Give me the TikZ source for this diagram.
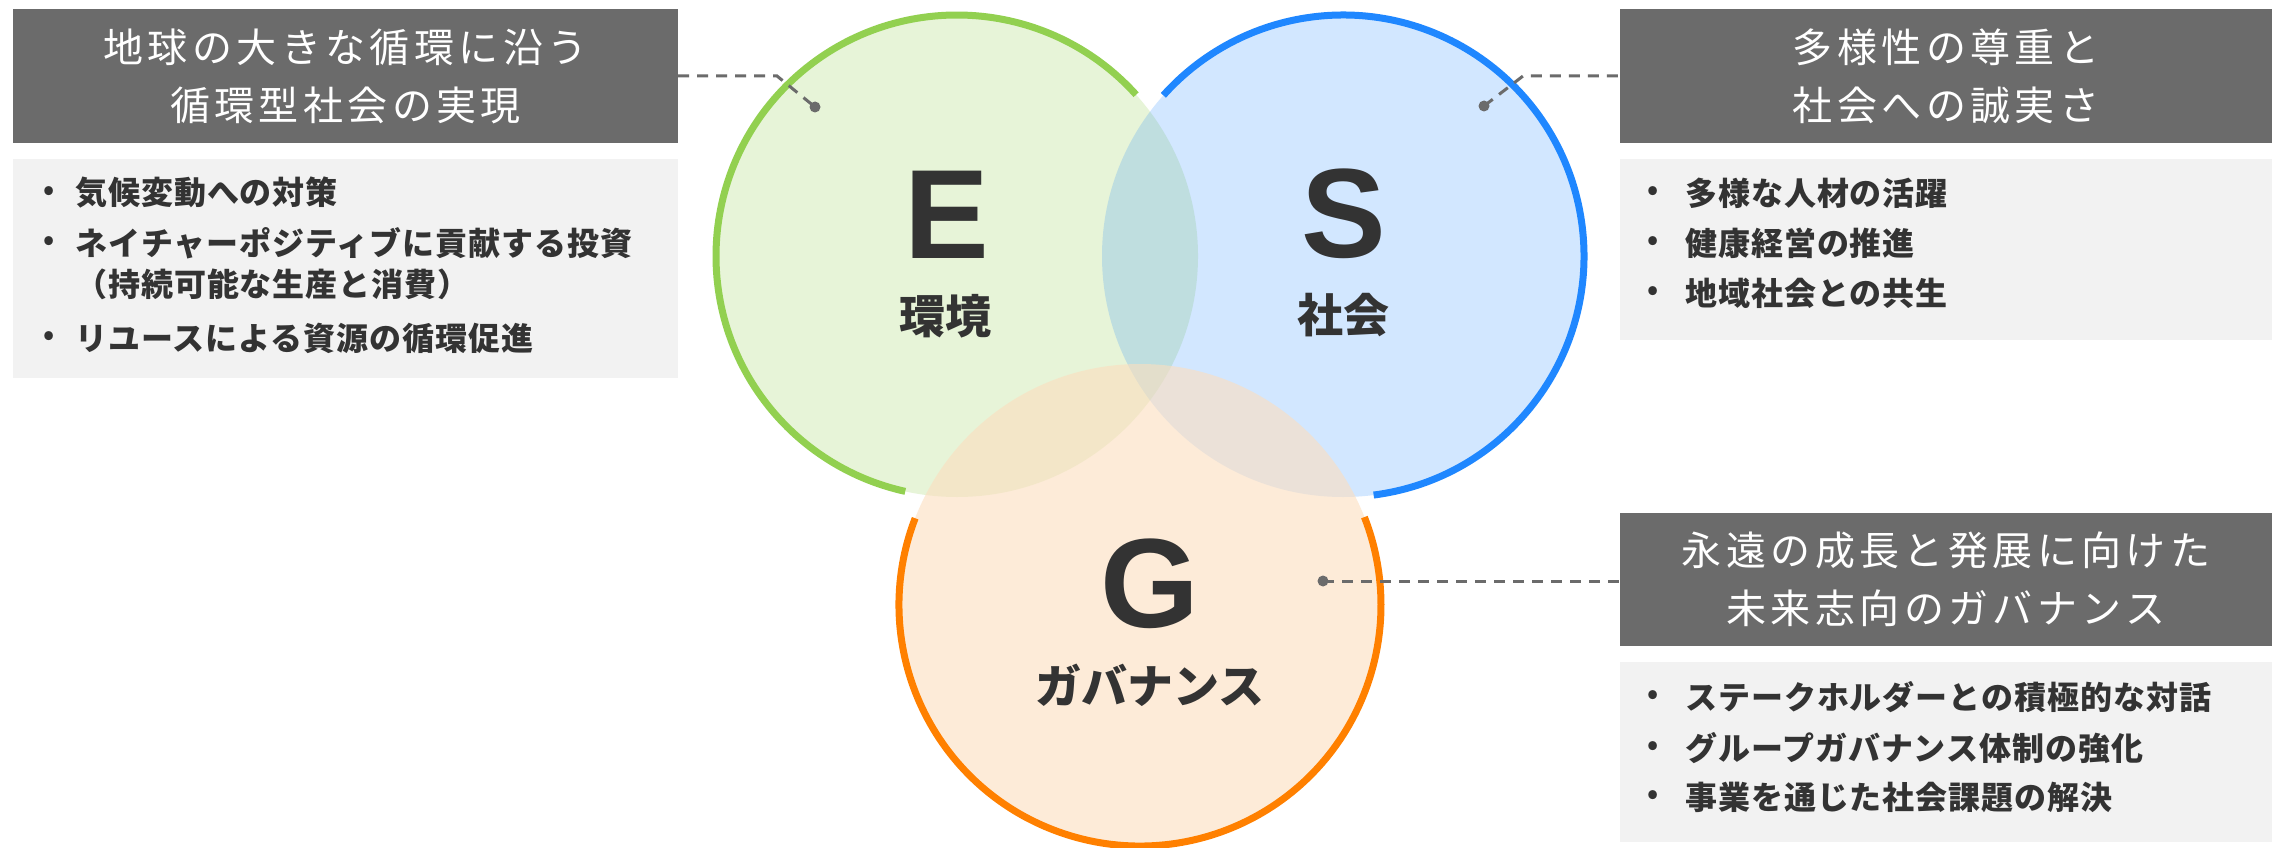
\documentclass[tikz,border=0pt]{standalone}
\usepackage{fontspec}
\newfontfamily\jpt{Noto Sans CJK JP}[LetterSpace=11]
\newfontfamily\jpl{Noto Sans CJK JP}[LetterSpace=3]
\newfontfamily\jpc{Noto Sans CJK JP}
\newfontfamily\latb{Liberation Sans}
\definecolor{tgray}{HTML}{6B6B6B}
\definecolor{lgray}{HTML}{F2F2F2}
\definecolor{tdark}{HTML}{333333}
\definecolor{cgreen}{HTML}{92D050}
\definecolor{cblue}{HTML}{1F87FF}
\definecolor{corange}{HTML}{FF8000}
\definecolor{gfill}{RGB}{252,222,190}
\begin{document}
\begin{tikzpicture}[x=1pt,y=1pt,
  titlebox/.style={fill=tgray, text=white, inner sep=0, align=center,
    font=\jpt\fontsize{40}{58}\selectfont},
  listbox/.style={fill=lgray, inner sep=0},
  item/.style={anchor=west, inner sep=0, text=tdark,
    font=\jpl\bfseries\fontsize{32}{39}\selectfont},
  bul/.style={inner sep=0, text=tdark, font=\jpc\bfseries\fontsize{28}{28}\selectfont},
  conn/.style={draw=tgray, line width=3, dash pattern=on 11pt off 8pt},
  dotmark/.style={circle, fill=tgray, inner sep=0, minimum size=11},
  venn/.style={circle, inner sep=0, minimum size=482},
  ring/.style={line width=7},
  bigletter/.style={inner sep=0, text=tdark, font=\latb\bfseries\fontsize{127}{127}\selectfont},
  cjklabel/.style={inner sep=0, text=tdark, font=\jpc\bfseries\fontsize{46}{46}\selectfont}
]
\useasboundingbox (0,0) rectangle (2272,-848);
\fill[white] (0,0) rectangle (2272,-848);

% boxes
\node[titlebox, minimum width=665, minimum height=134] (tE) at (345.5,-76) {地球の大きな循環に沿う\\循環型社会の実現};
\node[listbox, minimum width=665, minimum height=219] (lE) at (345.5,-268.5) {};
\node[titlebox, minimum width=652, minimum height=134] (tS) at (1946,-76) {多様性の尊重と\\社会への誠実さ};
\node[listbox, minimum width=652, minimum height=181] (lS) at (1946,-249.5) {};
\node[titlebox, minimum width=652, minimum height=133] (tG) at (1946,-579.5) {永遠の成長と発展に向けた\\未来志向のガバナンス};
\node[listbox, minimum width=652, minimum height=180] (lG) at (1946,-752) {};

% list items E
\node[bul] (bE1) at (48.6,-193) {•};
\node[item] (iE1) at (75,-193) {気候変動への対策};
\node[bul] (bE2) at (48.6,-243) {•};
\node[item] (iE2) at (75,-243) {ネイチャーポジティブに貢献する投資};
\node[item] (iE2b) at (75,-284) {（持続可能な生産と消費）};
\node[bul] (bE3) at (48.6,-338) {•};
\node[item] (iE3) at (75,-338) {リユースによる資源の循環促進};

% list items S
\node[bul] (bS1) at (1653,-193) {•};
\node[item] (iS1) at (1685,-193) {多様な人材の活躍};
\node[bul] (bS2) at (1653,-243) {•};
\node[item] (iS2) at (1685,-243) {健康経営の推進};
\node[bul] (bS3) at (1653,-293) {•};
\node[item] (iS3) at (1685,-293) {地域社会との共生};

% list items G
\node[bul] (bG1) at (1653,-697) {•};
\node[item] (iG1) at (1685,-697) {ステークホルダーとの積極的な対話};
\node[bul] (bG2) at (1653,-748) {•};
\node[item] (iG2) at (1685,-748) {グループガバナンス体制の強化};
\node[bul] (bG3) at (1653,-797) {•};
\node[item] (iG3) at (1685,-797) {事業を通じた社会課題の解決};

% circles
\node[venn, fill=cgreen, fill opacity=0.22] (cE) at (957,-256) {};
\node[venn, fill=cblue, fill opacity=0.2] (cS) at (1343,-256) {};
\node[venn, fill=gfill, fill opacity=0.6] (cG) at (1140,-605) {};

\draw[ring, cgreen] (cE.center) ++(42:241) arc[start angle=42, end angle=257.6, radius=241];
\draw[ring, cblue] (cS.center) ++(-82.7:241) arc[start angle=-82.7, end angle=138.2, radius=241];
\draw[ring, corange] (cG.center) ++(158.9:241) arc[start angle=158.9, end angle=381.4, radius=241];

% connectors
\node[dotmark] (dE) at (815,-107) {};
\coordinate (kE) at (777,-76);
\draw[conn] (tE.east) -- (kE) -- (dE.center);
\node[dotmark] (dS) at (1484,-106) {};
\coordinate (kS) at (1523,-76);
\draw[conn] (dS.center) -- (kS) -- (tS.west);
\node[dotmark] (dG) at (1323,-581) {};
\draw[conn] (dG.center) -- (dG -| tG.west);

% circle labels
\node[bigletter] (lbE) at (946.5,-214.5) {E};
\node[cjklabel] (nE) at (945,-316) {環境};
\node[bigletter] (lbS) at (1344,-213.5) {S};
\node[cjklabel] (nS) at (1343.5,-315) {社会};
\node[bigletter] (lbG) at (1149.5,-583.5) {G};
\node[cjklabel] (nG) at (1150,-685) {ガバナンス};
\end{tikzpicture}
\end{document}
